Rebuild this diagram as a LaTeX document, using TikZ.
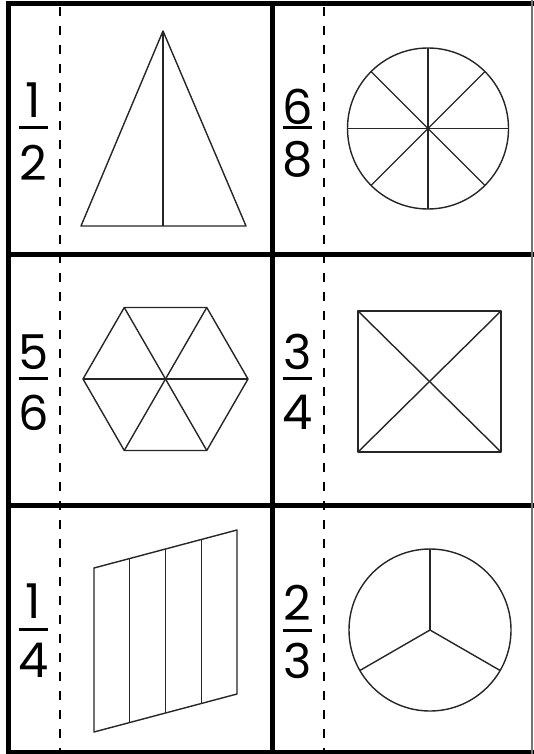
\documentclass[tikz,border=0pt]{standalone}
\usepackage{fontspec}
\setmainfont{Poppins}
\usetikzlibrary{calc}
\begin{document}
\begin{tikzpicture}[x=1pt,y=-1pt,
  rulebold/.style={line width=5pt,black,line cap=rect},
  foldline/.style={line width=2pt,dash pattern=on 9pt off 10pt},
  shapeline/.style={line width=1.4pt,black!85,line join=round},
  digit/.style={inner sep=0pt,font=\fontsize{48}{48}\selectfont},
  fracbar/.style={line width=3pt}]
\useasboundingbox (0,0) rectangle (533,754);
\fill[white] (0,0) rectangle (533,754);
% fold lines
\draw[foldline] (60,7) -- (60,754);
\draw[foldline] (324,7) -- (324,754);
% grid
\draw[rulebold] (8.5,4) -- (531,4);
\draw[rulebold] (8.5,254) -- (531,254);
\draw[rulebold] (8.5,505) -- (531,505);
\draw[rulebold] (8.5,752) -- (531,752);
\draw[rulebold] (8.5,4) -- (8.5,752);
\draw[rulebold] (272,4) -- (272,752);
\draw[line width=1.5pt,black!55] (532,0) -- (532,754);
% fractions
\node[digit] (n1) at (33.5,100.5) {1};
\node[digit] (d1) at (33.5,162.5) {2};
\draw[fracbar] (19,128) -- (48,128);
\node[digit] (n2) at (297.5,106.5) {6};
\node[digit] (d2) at (297.5,159.5) {8};
\draw[fracbar] (283,128) -- (312,128);
\node[digit] (n3) at (33.5,352.5) {5};
\node[digit] (d3) at (33.5,412.5) {6};
\draw[fracbar] (19,378) -- (48,378);
\node[digit] (n4) at (297.5,351.5) {3};
\node[digit] (d4) at (297.5,412.5) {4};
\draw[fracbar] (283,378) -- (312,378);
\node[digit] (n5) at (33.5,601.5) {1};
\node[digit] (d5) at (33.5,660) {4};
\draw[fracbar] (19,629.5) -- (48,629.5);
\node[digit] (n6) at (297.5,602.5) {2};
\node[digit] (d6) at (297.5,660.5) {3};
\draw[fracbar] (283,630) -- (312,630);
% cell 1: triangle
\draw[shapeline] (163,31) -- (246,226) -- (81,226) -- cycle;
\draw[shapeline] (163,31) -- (163,226);
% cell 2: circle in eighths
\draw[shapeline] (428,128.5) circle[radius=80.5pt];
\foreach \a in {0,45,90,135}
  \draw[shapeline] ($(428,128.5)+(\a:80.5)$) -- ($(428,128.5)+(\a+180:80.5)$);
% cell 3: hexagon
\draw[shapeline] (83,379) -- (124.25,307.5) -- (206.75,307.5) -- (248,379) -- (206.75,450.5) -- (124.25,450.5) -- cycle;
\draw[shapeline] (83,379) -- (248,379);
\draw[shapeline] (124.25,307.5) -- (206.75,450.5);
\draw[shapeline] (206.75,307.5) -- (124.25,450.5);
% cell 4: square
\draw[shapeline] (358,311) rectangle (501,452);
\draw[shapeline] (358,311) -- (501,452);
\draw[shapeline] (501,311) -- (358,452);
% cell 5: parallelogram in fourths
\draw[shapeline] (94,568) -- (237,530) -- (237,694) -- (94,732) -- cycle;
\foreach \i in {1,2,3}
  \draw[shapeline] ($(94,568)!\i/4!(237,530)$) -- ($(94,732)!\i/4!(237,694)$);
% cell 6: circle in thirds
\draw[shapeline] (430,630) circle[radius=81pt];
\draw[shapeline] (430,630) -- (430,549);
\draw[shapeline] (430,630) -- (359.85,670.5);
\draw[shapeline] (430,630) -- (500.15,670.5);
\end{tikzpicture}
\end{document}
